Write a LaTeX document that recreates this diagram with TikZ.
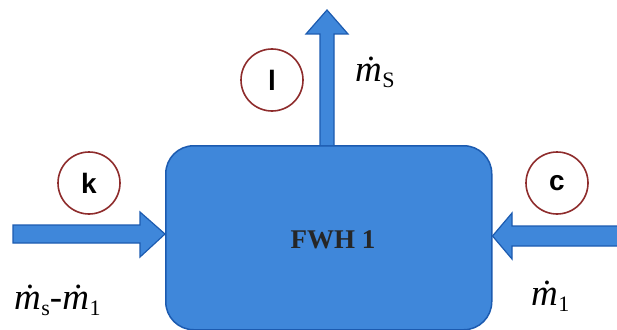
\documentclass[tikz,border=0pt]{standalone}
\usepackage{fontspec}
\setmainfont{Liberation Serif}
\newfontfamily\lblsans{Liberation Sans}
\usetikzlibrary{calc}
\definecolor{boxfill}{HTML}{3F87DA}
\definecolor{boxedge}{HTML}{1C5BB0}
\definecolor{ringred}{HTML}{8E2C2C}
\newcommand{\mdotsub}[1]{\textit{ṁ}\kern0.5pt\raisebox{-6pt}{\fontsize{22}{24}\selectfont #1}}
\tikzset{
  fatarrow/.style={fill=boxfill, draw=boxedge, line width=1.2pt, line join=miter},
  tag/.style={circle, draw=ringred, line width=1.6pt, minimum size=62pt, inner sep=0pt, font=\lblsans\bfseries\fontsize{28}{30}\selectfont},
  flowlbl/.style={font=\fontsize{37}{39}\selectfont, inner sep=0pt}
}
\begin{document}
\begin{tikzpicture}[x=1pt,y=-1pt]
\useasboundingbox (0,0) rectangle (617,329);
% main heater box
\node[draw=boxedge, fill=boxfill, line width=1.5pt, rounded corners=28pt, minimum width=326pt, minimum height=184pt, anchor=north west, inner sep=0pt] (fwh) at (165,145) {};
\node[font=\bfseries\fontsize{27}{29}\selectfont, text=black!85] (fwhl) at (333,240) {FWH 1};
% up arrow (outlet)
\coordinate (upbase) at (327,145);
\coordinate (uptip) at (327,10);
\draw[fatarrow] ($(upbase)+(-7,0)$) -- (320,34) -- (306,34) -- (uptip) -- (348,34) -- (334,34) -- ($(upbase)+(7,0)$);
% left arrow (inlet)
\coordinate (lstart) at (13,234);
\coordinate (ltip) at (fwh.west |- lstart);
\draw[fatarrow] (13,225) -- (140,225) -- (140,212) -- (ltip) -- (140,257) -- (140,243) -- (13,243) -- cycle;
% right arrow (inlet)
\coordinate (rstart) at (620,236);
\coordinate (rtip) at (fwh.east |- rstart);
\draw[fatarrow] (620,226) -- (512,226) -- (512,213) -- (rtip) -- (512,259) -- (512,246) -- (620,246);
% tags
\node[tag] (k) at (89,183) {k};
\node[tag] (l) at (272,80) {l};
\node[tag] (c) at (557,183) {c};
% flow labels
\node[flowlbl, anchor=west] (ms) at (355,72) {\mdotsub{S}};
\node[flowlbl, anchor=west] (msm1) at (14,300) {\mdotsub{s}-\mdotsub{1}};
\node[flowlbl, anchor=west] (m1) at (531,296) {\mdotsub{1}};
\end{tikzpicture}
\end{document}
